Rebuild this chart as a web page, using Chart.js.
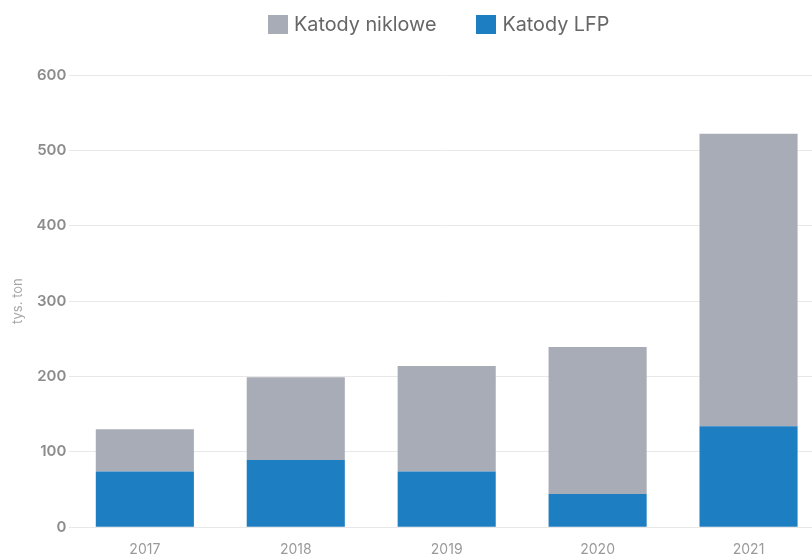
<!DOCTYPE html>
<html>
<head>
<meta charset="utf-8">
<script src="https://cdn.jsdelivr.net/npm/chart.js@4.4.0/dist/chart.umd.min.js"></script>
<style>
  html, body { margin: 0; padding: 0; background: #fff; overflow: hidden; width: 812px; height: 554px; }
  .wrap { position: relative; width: 830px; height: 567px; }
  .legend { position: absolute; top: 12px; left: 268px; display: flex; align-items: center; font-family: Inter, sans-serif; font-size: 19.8px; color: #666; white-space: nowrap; }
  .legend .item { display: flex; align-items: center; margin-right: 40px; }
  .legend .box { width: 20px; height: 19px; margin-right: 6px; }
</style>
</head>
<body>
<div class="wrap">
  <div class="legend" id="legend"></div>
  <canvas id="myChart" width="830" height="567"></canvas>
</div>
<script>
const years = ['2017', '2018', '2019', '2020', '2021'];
const lfp = [74, 89, 74, 44, 134];
const nickel = [56, 110, 140, 195, 388];
const yTicks = [0, 100, 200, 300, 400, 500, 600];

const seriesNames = ['Katody niklowe', 'Katody LFP'];
const gray = '#a8acb6';
const blue = '#1e7ec2';

const ctx = document.getElementById('myChart').getContext('2d');

const chart = new Chart(ctx, {
    type: 'bar',
    data: {
        labels: years,
        datasets: [{
            label: seriesNames[1],
            data: lfp,
            backgroundColor: blue,
            order: 1
        }, {
            label: seriesNames[0],
            data: nickel,
            backgroundColor: gray,
            order: 2
        }]
    },
    options: {
        responsive: false,
        animation: false,
        layout: {
            padding: { top: 75, left: 10, right: 6, bottom: 3 }
        },
        datasets: {
            bar: {
                categoryPercentage: 1,
                barPercentage: 0.65
            }
        },
        plugins: {
            legend: { display: false },
            tooltip: { enabled: false }
        },
        scales: {
            x: {
                stacked: true,
                grid: { display: false },
                border: { display: false },
                ticks: {
                    color: '#9a9a9a',
                    padding: 6,
                    font: { family: 'Inter', size: 14 }
                }
            },
            y: {
                stacked: true,
                min: 0,
                max: 600,
                afterBuildTicks: axis => {
                    axis.ticks = yTicks.map(v => ({ value: v }));
                },
                grid: { color: '#e8e8e8', drawTicks: false },
                border: { display: false },
                ticks: {
                    color: '#8c8c8c',
                    padding: 3,
                    font: { family: 'Inter', size: 15, weight: '600' }
                },
                title: {
                    display: true,
                    text: 'tys. ton',
                    color: '#a6a6a6',
                    padding: { top: 0, bottom: 8 },
                    font: { family: 'Inter', size: 13 }
                }
            }
        }
    }
});

// html legend, nickel first like the original
const legend = document.getElementById('legend');
[chart.data.datasets[1], chart.data.datasets[0]].forEach(ds => {
    const item = document.createElement('div');
    item.className = 'item';
    item.innerHTML = '<span class="box" style="background:' + ds.backgroundColor + '"></span>' + ds.label;
    legend.appendChild(item);
});
</script>
</body>
</html>
